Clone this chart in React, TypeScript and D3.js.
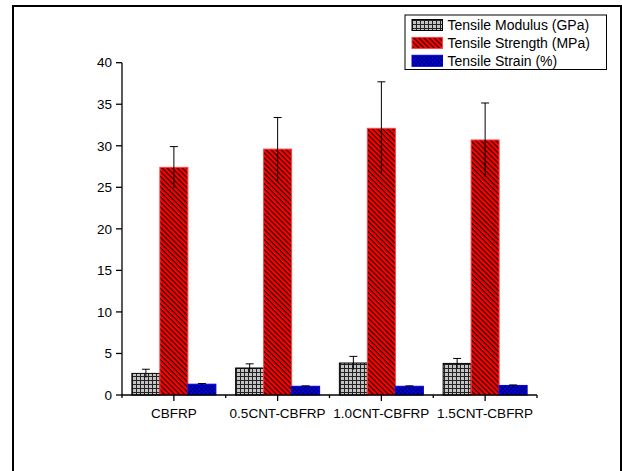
import React from "react";
import * as d3 from "d3";

const categories = ["CBFRP", "0.5CNT-CBFRP", "1.0CNT-CBFRP", "1.5CNT-CBFRP"];
const seriesNames = ["Tensile Modulus (GPa)", "Tensile Strength (MPa)", "Tensile Strain (%)"];
const modulus = [2.6, 3.25, 3.85, 3.8];
const modulusErr = [0.5, 0.5, 0.8, 0.6];
const strength = [27.4, 29.6, 32.1, 30.7];
const strengthErr = [2.5, 3.8, 5.6, 4.45];
const strain = [1.3, 1.05, 1.05, 1.15];
const strainErr = [0.08, 0.05, 0.05, 0.06];
const yTicks = [0, 5, 10, 15, 20, 25, 30, 35, 40];

const FONT = "'Liberation Sans', Arial, sans-serif";

export default function App() {
  const W = 622, H = 471;
  const left = 122, right = 537, top = 62.7, bottom = 395;
  const x0 = d3.scaleBand<string>().domain(categories).range([left, right]).padding(0);
  const bw = x0.bandwidth();
  const groupW = 84;
  const x1 = d3.scaleBand<string>().domain(seriesNames).range([(bw - groupW) / 2, (bw + groupW) / 2]).padding(0);
  const y = d3.scaleLinear().domain([0, 40]).range([bottom, top]);

  const series = [
    { name: seriesNames[0], vals: modulus, errs: modulusErr, fill: "url(#pGrid)", stroke: "#000" },
    { name: seriesNames[1], vals: strength, errs: strengthErr, fill: "url(#pRed)", stroke: "#ff4040" },
    { name: seriesNames[2], vals: strain, errs: strainErr, fill: "url(#pBlue)", stroke: "#0000dd" },
  ];

  const boundaries = [left, ...categories.map((c) => (x0(c) as number) + bw)];

  return (
    <svg width={W} height={H} style={{ position: "absolute", left: 0, top: 0, background: "#fff" }} fontFamily={FONT}>
      <defs>
        <pattern id="pGrid" patternUnits="userSpaceOnUse" width={4} height={4}>
          <rect width={4} height={4} fill="#c4c4c4" />
          <line x1={0.5} y1={0} x2={0.5} y2={4} stroke="#222" strokeWidth={1} />
          <line x1={0} y1={0.5} x2={4} y2={0.5} stroke="#222" strokeWidth={1} />
        </pattern>
        <pattern id="pRed" patternUnits="userSpaceOnUse" width={3.6} height={3.6} patternTransform="rotate(45)">
          <rect width={3.6} height={3.6} fill="#ff0000" />
          <line x1={0} y1={0.6} x2={3.6} y2={0.6} stroke="#000" strokeWidth={1.1} />
        </pattern>
        <pattern id="pBlue" patternUnits="userSpaceOnUse" width={3} height={3} patternTransform="rotate(45)">
          <rect width={3} height={3} fill="#0000ff" />
          <line x1={0} y1={0.4} x2={3} y2={0.4} stroke="#000" strokeWidth={0.6} />
          <line x1={0.4} y1={0} x2={0.4} y2={3} stroke="#000" strokeWidth={0.6} />
        </pattern>
      </defs>

      {/* outer frame */}
      <path d={`M13,${H + 2} L13,6 L621,6 L621,${H + 2}`} fill="none" stroke="#000" strokeWidth={2} />

      {/* bars */}
      {series.map((s) =>
        categories.map((c, i) => {
          const bx = (x0(c) as number) + (x1(s.name) as number);
          const w = x1.bandwidth();
          const yt = y(s.vals[i]);
          return (
            <rect key={s.name + c} x={bx} y={yt} width={w} height={y(0) - yt} fill={s.fill} stroke={s.stroke} strokeWidth={1} />
          );
        })
      )}

      {/* error bars */}
      {series.map((s) =>
        categories.map((c, i) => {
          const cx = (x0(c) as number) + (x1(s.name) as number) + x1.bandwidth() / 2;
          const yh = y(s.vals[i] + s.errs[i]);
          const yl = y(s.vals[i] - s.errs[i]);
          return (
            <g key={"e" + s.name + c} stroke="#000" strokeWidth={1}>
              <line x1={cx} x2={cx} y1={yh} y2={yl} />
              <line x1={cx - 4} x2={cx + 4} y1={yh} y2={yh} />
            </g>
          );
        })
      )}

      {/* y axis */}
      <line x1={left} x2={left} y1={top} y2={bottom + 0.5} stroke="#000" strokeWidth={1.3} />
      {yTicks.map((t) => (
        <g key={"y" + t}>
          <line x1={left - 6} x2={left} y1={y(t)} y2={y(t)} stroke="#000" strokeWidth={1.3} />
          <text x={left - 10} y={y(t)} dy="0.35em" textAnchor="end" fontSize={13.5} fill="#000">
            {t}
          </text>
        </g>
      ))}

      {/* x axis */}
      <line x1={left} x2={right} y1={bottom} y2={bottom} stroke="#000" strokeWidth={1.3} />
      {boundaries.map((b, i) => (
        <line key={"b" + i} x1={b} x2={b} y1={bottom} y2={bottom + 3} stroke="#000" strokeWidth={1.3} />
      ))}
      {categories.map((c) => {
        const cx = (x0(c) as number) + bw / 2;
        return (
          <g key={"x" + c}>
            <line x1={cx} x2={cx} y1={bottom} y2={bottom + 6} stroke="#000" strokeWidth={1.3} />
            <text x={cx} y={418} textAnchor="middle" fontSize={13.5} fill="#000">
              {c}
            </text>
          </g>
        );
      })}

      {/* legend */}
      <rect x={405} y={15} width={201.5} height={54.5} fill="#fff" stroke="#000" strokeWidth={1} />
      {series.map((s, i) => {
        const cy = 25 + i * 17.9;
        return (
          <g key={"l" + s.name}>
            <rect x={412} y={cy - 5.5} width={30.5} height={11} fill={s.fill} stroke={s.stroke} strokeWidth={1} />
            <text x={447.5} y={cy} dy="0.36em" fontSize={14} fill="#000">
              {s.name}
            </text>
          </g>
        );
      })}
    </svg>
  );
}
